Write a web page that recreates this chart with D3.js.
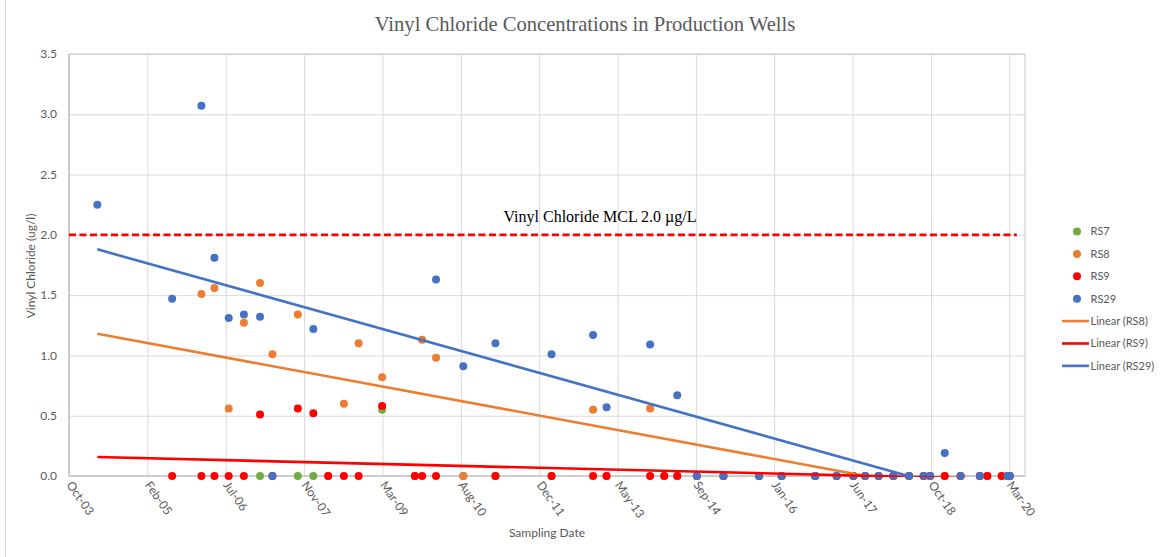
<!DOCTYPE html>
<html>
<head>
<meta charset="utf-8">
<script src="https://cdn.jsdelivr.net/npm/d3@7"></script>
<style>
  body { margin: 0; background: #fff; }
  text { font-family: Lato, "Liberation Sans", sans-serif; }
  text.serif { font-family: "Palatino Linotype", "Book Antiqua", "Liberation Serif", serif; }
</style>
</head>
<body>
<svg id="chart" width="1161" height="557"></svg>
<script>
// sampling dates shared by all wells (null = well not sampled that day)
const sampleDates = [
  "2004-04-04", "2005-07-25", "2006-01-28", "2006-04-21", "2006-07-21", "2006-10-26",
  "2007-02-06", "2007-04-26", "2007-10-05", "2008-01-12", "2008-04-16", "2008-07-25",
  "2008-10-27", "2009-03-26", "2009-10-21", "2009-12-06", "2010-03-05", "2010-08-26",
  "2011-03-19", "2012-03-11", "2012-12-01", "2013-02-25", "2013-11-30", "2014-02-28",
  "2014-05-22", "2014-09-24", "2015-03-13", "2015-10-26", "2016-03-18", "2016-10-18",
  "2017-03-04", "2017-06-19", "2017-09-02", "2017-11-27", "2018-03-01", "2018-06-09",
  "2018-09-10", "2018-10-21", "2019-01-23", "2019-05-04", "2019-09-04", "2019-10-22",
  "2020-01-21", "2020-02-27", "2020-03-13"
];
const rs7 = [
  null, null, null, null, null, null,
  0, null, 0, 0, null, null,
  null, 0.55, null, null, null, 0,
  null, null, null, null, null, null,
  null, null, null, null, null, null,
  null, null, null, null, null, null,
  null, null, null, null, null, null,
  null, null, null
];
const rs8 = [
  null, null, 1.51, 1.56, 0.56, 1.27,
  1.60, 1.01, 1.34, null, 0, 0.60,
  1.10, 0.82, 0, 1.13, 0.98, 0,
  0, 0, 0.55, 0, 0.56, 0,
  0, 0, 0, 0, 0, 0,
  0, 0, 0, 0, 0, 0,
  0, 0, 0, 0, 0, 0,
  0, 0, 0
];
const rs9 = [
  null, 0, 0, 0, 0, 0,
  0.51, 0, 0.56, 0.52, 0, 0,
  0, 0.58, 0, 0, 0, null,
  0, 0, 0, 0, 0, 0,
  0, 0, 0, 0, 0, 0,
  0, 0, 0, 0, 0, 0,
  0, 0, 0, 0, 0, 0,
  0, 0, 0
];
const rs29 = [
  2.25, 1.47, 3.07, 1.81, 1.31, 1.34,
  1.32, 0, null, 1.22, null, null,
  null, null, null, null, 1.63, 0.91,
  1.10, 1.01, 1.17, 0.57, 1.09, null,
  0.67, 0, 0, 0, 0, 0,
  0, 0, 0, 0, 0, 0,
  0, 0, 0.19, 0, 0, null,
  null, 0, 0
];

const seriesNames = ["RS7", "RS8", "RS9", "RS29"];
const seriesValues = [rs7, rs8, rs9, rs29];
const trendNames = ["RS8", "RS9", "RS29"];

const mclValue = 2.0;
const mclDates = ["2003-10-06", "2020-04-27"];
const mclLabel = "Vinyl Chloride MCL 2.0 µg/L";

const axisStart = "2003-10-06";   // date axis minimum
const tickStepDays = 500;         // major unit
const axisSpanDays = 6100;
const xTickLabels = ["Oct-03", "Feb-05", "Jul-06", "Nov-07", "Mar-09", "Aug-10", "Dec-11",
                     "May-13", "Sep-14", "Jan-16", "Jun-17", "Oct-18", "Mar-20"];
const yTicks = [0, 0.5, 1, 1.5, 2, 2.5, 3, 3.5];

const colors = { RS7: "#70AD47", RS8: "#ED7D31", RS9: "#FF0000", RS29: "#4472C4" };

const parse = d3.timeParse("%Y-%m-%d");
const pLeft = 69, pRight = 1025, pTop = 54, pBottom = 476;

const svg = d3.select("#chart");
const start = parse(axisStart);
const end = d3.timeDay.offset(start, axisSpanDays);
const tickDates = xTickLabels.map((_, i) => d3.timeDay.offset(start, i * tickStepDays));

const x = d3.scaleTime().domain([start, end]).range([pLeft, pRight]);
const y = d3.scaleLinear().domain([0, 3.5]).range([pBottom, pTop]);

// outer chart frame (left edge visible)
svg.append("line").attr("x1", 5.5).attr("x2", 5.5).attr("y1", 0).attr("y2", 557)
  .attr("stroke", "#d9d9d9");

// gridlines
svg.append("g")
  .attr("transform", `translate(0,${pBottom})`)
  .call(d3.axisBottom(x).tickValues(tickDates).tickSize(-(pBottom - pTop)).tickFormat(""))
  .call(g => g.select(".domain").remove())
  .call(g => g.selectAll("line").attr("stroke", "#d9d9d9"));
svg.append("g")
  .attr("transform", `translate(${pLeft},0)`)
  .call(d3.axisLeft(y).tickValues(yTicks).tickSize(-(pRight - pLeft)).tickFormat(""))
  .call(g => g.select(".domain").remove())
  .call(g => g.selectAll("line").attr("stroke", "#d9d9d9"));

svg.append("rect")
  .attr("x", pLeft).attr("y", pTop).attr("width", pRight - pLeft).attr("height", pBottom - pTop)
  .attr("fill", "none").attr("stroke", "#c9c9c9");

// axis lines
svg.append("line").attr("x1", pLeft).attr("x2", pRight).attr("y1", pBottom).attr("y2", pBottom)
  .attr("stroke", "#bfbfbf").attr("stroke-width", 1.2);
svg.append("line").attr("x1", pLeft).attr("x2", pLeft).attr("y1", pTop).attr("y2", pBottom)
  .attr("stroke", "#bfbfbf").attr("stroke-width", 1.2);

// y tick labels
svg.append("g").selectAll("text").data(yTicks).join("text")
  .attr("x", 57).attr("y", d => y(d)).attr("dy", "0.35em")
  .attr("text-anchor", "end").attr("font-size", 12).attr("fill", "#595959")
  .text(d => d3.format(".1f")(d));

// x tick labels, rotated
svg.append("g").selectAll("text").data(tickDates).join("text")
  .attr("transform", d => `translate(${x(d) - 3},${pBottom + 9}) rotate(55)`)
  .attr("font-size", 12).attr("fill", "#595959")
  .text((d, i) => xTickLabels[i]);

// clip for plot area
svg.append("clipPath").attr("id", "plot")
  .append("rect").attr("x", pLeft).attr("y", pTop).attr("width", pRight - pLeft).attr("height", pBottom - pTop + 1);

// MCL dashed line
svg.append("line")
  .attr("x1", x(parse(mclDates[0]))).attr("x2", x(parse(mclDates[1])))
  .attr("y1", y(mclValue)).attr("y2", y(mclValue))
  .attr("stroke", "#FF0000").attr("stroke-width", 2.6).attr("stroke-dasharray", "7,3.5");
svg.append("text")
  .attr("class", "serif")
  .attr("x", 600).attr("y", 222).attr("text-anchor", "middle")
  .attr("font-size", 16).attr("fill", "#000")
  .text(mclLabel);

// markers
const dates = sampleDates.map(parse);
seriesNames.forEach((name, si) => {
  const pts = dates.map((d, i) => ({ d, v: seriesValues[si][i] })).filter(p => p.v !== null);
  svg.append("g").selectAll("circle").data(pts).join("circle")
    .attr("cx", p => x(p.d)).attr("cy", p => y(p.v)).attr("r", 4)
    .attr("fill", colors[name]);
});

// linear trendlines (least squares), spanning the sampling period
const t0 = dates[0], t1 = dates[dates.length - 1];
trendNames.forEach(name => {
  const vals = seriesValues[seriesNames.indexOf(name)];
  const pts = dates.map((d, i) => [d3.timeDay.count(start, d), vals[i]]).filter(p => p[1] !== null);
  const mx = d3.mean(pts, p => p[0]), my = d3.mean(pts, p => p[1]);
  const slope = d3.sum(pts, p => (p[0] - mx) * (p[1] - my)) / d3.sum(pts, p => (p[0] - mx) ** 2);
  const f = t => my + slope * (d3.timeDay.count(start, t) - mx);
  svg.append("line")
    .attr("clip-path", "url(#plot)")
    .attr("x1", x(t0)).attr("y1", y(f(t0)))
    .attr("x2", x(t1)).attr("y2", y(f(t1)))
    .attr("stroke", colors[name]).attr("stroke-width", 2.6);
});

// title and axis titles
svg.append("text")
  .attr("class", "serif")
  .attr("x", 585).attr("y", 31).attr("text-anchor", "middle")
  .attr("font-size", 20.6).attr("fill", "#595959")
  .text("Vinyl Chloride Concentrations in Production Wells");

svg.append("text")
  .attr("transform", "translate(35,266) rotate(-90)")
  .attr("text-anchor", "middle").attr("font-size", 12).attr("fill", "#595959")
  .text("Vinyl Chloride (ug/l)");

svg.append("text")
  .attr("x", 547).attr("y", 537).attr("text-anchor", "middle")
  .attr("font-size", 12).attr("fill", "#595959")
  .text("Sampling Date");

// legend
const legendItems = seriesNames.map(n => ({ label: n, color: colors[n], type: "dot" }))
  .concat(trendNames.map(n => ({ label: `Linear (${n})`, color: colors[n], type: "line" })));
const legend = svg.append("g").selectAll("g").data(legendItems).join("g")
  .attr("transform", (d, i) => `translate(1077,${231.5 + i * 22.4})`);
legend.filter(d => d.type === "dot").append("circle").attr("r", 4).attr("fill", d => d.color);
legend.filter(d => d.type === "line").append("line")
  .attr("x1", -15).attr("x2", 12).attr("stroke", d => d.color).attr("stroke-width", 2.6);
legend.append("text").attr("x", 13.5).attr("dy", "0.35em")
  .attr("font-size", 11).attr("fill", "#595959").text(d => d.label);
</script>
</body>
</html>
